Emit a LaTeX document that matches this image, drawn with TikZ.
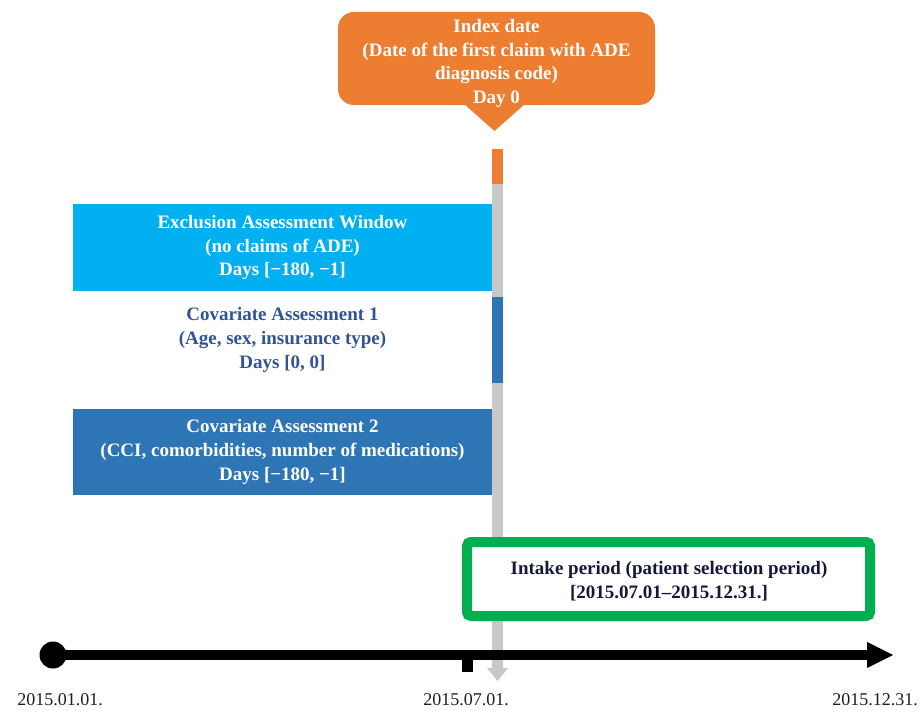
\documentclass[tikz,border=0pt]{standalone}
\usepackage{fontspec}
\setmainfont{Liberation Serif}
\definecolor{orangeC}{HTML}{ED7D31}
\definecolor{lightblueC}{HTML}{00B0F0}
\definecolor{darkblueC}{HTML}{2E75B6}
\definecolor{grayC}{HTML}{C8C8C8}
\definecolor{greenC}{HTML}{00B050}
\definecolor{covtextC}{HTML}{2F5597}
\definecolor{navyC}{HTML}{16183A}
\definecolor{datetextC}{HTML}{1C1C30}
\tikzset{
  boxtext/.style={align=center, font=\fontsize{19}{23.7}\selectfont\bfseries, inner sep=0pt},
  bandbox/.style={boxtext, minimum width=419pt, minimum height=87pt},
  datelabel/.style={font=\fontsize{18}{20}\selectfont, text=datetextC, inner sep=0pt}
}
\begin{document}
\begin{tikzpicture}[x=1pt,y=-1pt]
\useasboundingbox (0,0) rectangle (920,711);
\fill[white] (0,0) rectangle (920,711);

% vertical index-date bar
\fill[grayC] (492,184) rectangle (503,669);
\fill[grayC] (487,668) -- (508,668) -- (497.5,681) -- cycle;
\fill[orangeC] (492,149) rectangle (503,184);
\fill[darkblueC] (492,297) rectangle (503,383);

% callout
\fill[orangeC, rounded corners=16pt] (338,12) rectangle (655,105);
\fill[orangeC] (463,103) -- (494.5,131) -- (526,103) -- cycle;
\node[boxtext, text=white] (index) at (496.5,63.5)
  {Index date\\(Date of the first claim with ADE\\diagnosis code)\\Day 0};

% assessment windows
\node[bandbox, fill=lightblueC, text=white] (excl) at (282.5,247.5)
  {Exclusion Assessment Window\\(no claims of ADE)\\Days [−180, −1]};
\node[bandbox, text=covtextC] (cov1) at (282.5,340)
  {Covariate Assessment 1\\(Age, sex, insurance type)\\Days [0, 0]};
\node[bandbox, fill=darkblueC, text=white, minimum height=86pt] (cov2) at (282.5,452)
  {Covariate Assessment 2\\(CCI, comorbidities, number of medications)\\Days [−180, −1]};

% intake period
\draw[greenC, line width=10pt, rounded corners=4pt, fill=white] (467,542) rectangle (870,616);
\node[boxtext, text=navyC] (intake) at (669,581)
  {Intake period (patient selection period)\\{}{[}2015.07.01–2015.12.31.{]}};

% time axis
\coordinate (start) at (53,655);
\coordinate (axend) at (868,655);
\draw[black, line width=9.5pt] (start) -- (axend);
\fill[black] (867,642) -- (893,655) -- (867,668) -- cycle;
\fill[black] (start) circle (13.5);
\fill[black] (462,652) rectangle (473,672);

\node[datelabel] (d1) at (60,700) {2015.01.01.};
\node[datelabel] (d2) at (466,700) {2015.07.01.};
\node[datelabel] (d3) at (875,700) {2015.12.31.};
\end{tikzpicture}
\end{document}
